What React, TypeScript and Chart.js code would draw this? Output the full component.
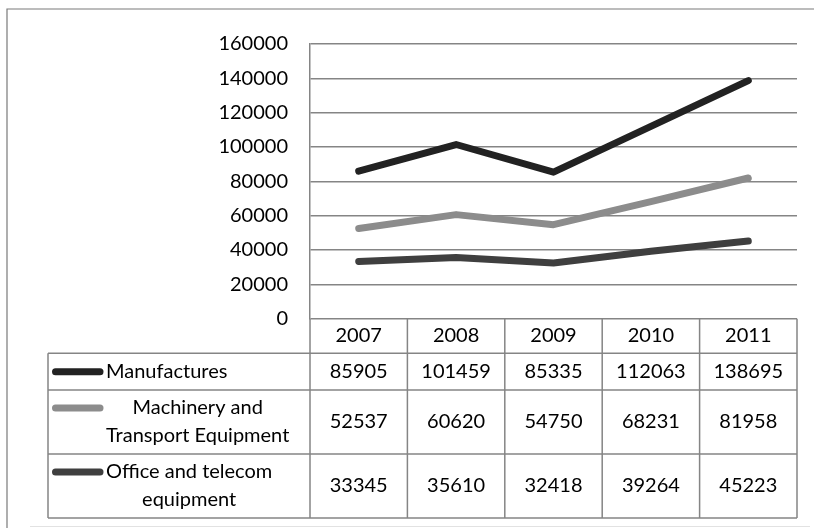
import React, { useEffect, useRef } from "react";
import { Chart, registerables } from "chart.js";

Chart.register(...registerables);

const years = ["2007", "2008", "2009", "2010", "2011"];
const manufactures = [85905, 101459, 85335, 112063, 138695];
const machinery = [52537, 60620, 54750, 68231, 81958];
const office = [33345, 35610, 32418, 39264, 45223];
const seriesLabels = [
  ["Manufactures"],
  ["Machinery and", "Transport Equipment"],
  ["Office and telecom", "equipment"],
];
const seriesColors = ["#222222", "#8c8c8c", "#3f3f3f"];
const yMin = 0;
const yMax = 160000;
const yStep = 20000;

const FONT = "Lato, 'Noto Sans', sans-serif";
const GRID = "#858585";
const TEXT = "#000";

const tablePlugin = {
  id: "dataTable",
  beforeDraw(chart: any) {
    const ctx = chart.ctx;
    ctx.save();
    ctx.strokeStyle = "#7a7a7a";
    ctx.lineWidth = 1.2;
    ctx.beginPath();
    ctx.moveTo(7, 528);
    ctx.lineTo(7, 9);
    ctx.lineTo(814, 9);
    ctx.stroke();
    ctx.strokeStyle = "#e2e2e2";
    ctx.beginPath();
    ctx.moveTo(30, 526.5);
    ctx.lineTo(810, 526.5);
    ctx.stroke();
    ctx.restore();
  },
  afterDraw(chart: any) {
    const ctx = chart.ctx;
    const area = chart.chartArea;
    const xs = chart.scales.x;
    const n = years.length;
    const centers = years.map((_, i) => xs.getPixelForValue(i));
    const bounds: number[] = [area.left];
    for (let i = 1; i < n; i++) bounds.push((centers[i - 1] + centers[i]) / 2);
    bounds.push(area.right);

    const top = area.bottom;
    const headerB = top + 34.6;
    const rowBottoms = [headerB + 36.7, headerB + 100.7, headerB + 164.7];
    const tableLeft = 48;
    const tableBottom = rowBottoms[2];

    ctx.save();
    ctx.strokeStyle = GRID;
    ctx.lineWidth = 1.5;
    ctx.beginPath();
    bounds.forEach((b) => {
      ctx.moveTo(b, top);
      ctx.lineTo(b, tableBottom);
    });
    ctx.moveTo(tableLeft, headerB);
    ctx.lineTo(tableLeft, tableBottom);
    [headerB, ...rowBottoms].forEach((y) => {
      ctx.moveTo(tableLeft, y);
      ctx.lineTo(area.right, y);
    });
    ctx.stroke();

    ctx.fillStyle = TEXT;
    ctx.font = `20px ${FONT}`;
    ctx.textAlign = "center";
    ctx.textBaseline = "middle";
    years.forEach((yr, i) => ctx.fillText(yr, centers[i], (top + headerB) / 2));

    const rowTops = [headerB, rowBottoms[0], rowBottoms[1]];
    const allData = [manufactures, machinery, office];
    allData.forEach((vals, r) => {
      const cy = (rowTops[r] + rowBottoms[r]) / 2;
      vals.forEach((v, i) => ctx.fillText(String(v), centers[i], cy));

      const lines = seriesLabels[r];
      const lh = 28;
      const firstY = cy - ((lines.length - 1) * lh) / 2;
      ctx.strokeStyle = seriesColors[r];
      ctx.lineWidth = 7;
      ctx.lineCap = "round";
      ctx.beginPath();
      ctx.moveTo(tableLeft + 7.5, firstY);
      ctx.lineTo(tableLeft + 52, firstY);
      ctx.stroke();

      const blockLeft = tableLeft + 58;
      const widths = lines.map((l) => ctx.measureText(l).width);
      const blockW = Math.max(...widths);
      const bc = blockLeft + blockW / 2;
      lines.forEach((l, k) => ctx.fillText(l, bc, firstY + k * lh));
    });
    ctx.restore();
  },
};

export default function App() {
  const ref = useRef<HTMLCanvasElement | null>(null);
  useEffect(() => {
    if (!ref.current) return;
    const chart = new Chart(ref.current, {
      type: "line",
      data: {
        labels: years,
        datasets: [manufactures, machinery, office].map((d, i) => ({
          label: seriesLabels[i].join(" "),
          data: d,
          borderColor: seriesColors[i],
          backgroundColor: seriesColors[i],
          borderWidth: 7,
          pointRadius: 0,
          tension: 0,
          borderCapStyle: "round",
          borderJoinStyle: "round",
        })),
      },
      options: {
        animation: false,
        responsive: false,
        devicePixelRatio: 1,
        layout: { padding: { top: 44, right: 17, left: 0, bottom: 0 } },
        plugins: { legend: { display: false }, tooltip: { enabled: false } },
        scales: {
          y: {
            min: yMin,
            max: yMax,
            ticks: {
              stepSize: yStep,
              color: TEXT,
              font: { family: FONT, size: 20 },
              padding: 22,
              callback: (v: any) => String(v),
            },
            grid: { color: GRID, lineWidth: 1.5, drawTicks: false },
            border: { display: true, color: GRID, width: 1.5 },
            afterFit: (s: any) => {
              s.width = 310;
            },
          },
          x: {
            offset: true,
            ticks: { display: false },
            grid: { display: false },
            border: { display: false },
            afterFit: (s: any) => {
              s.height = 528 - 318.7;
            },
          },
        },
      } as any,
      plugins: [tablePlugin],
    });
    return () => chart.destroy();
  }, []);
  return (
    <div style={{ position: "absolute", left: 0, top: 0, width: 814, height: 528, background: "#fff" }}>
      <canvas ref={ref} width={814} height={528} />
    </div>
  );
}
